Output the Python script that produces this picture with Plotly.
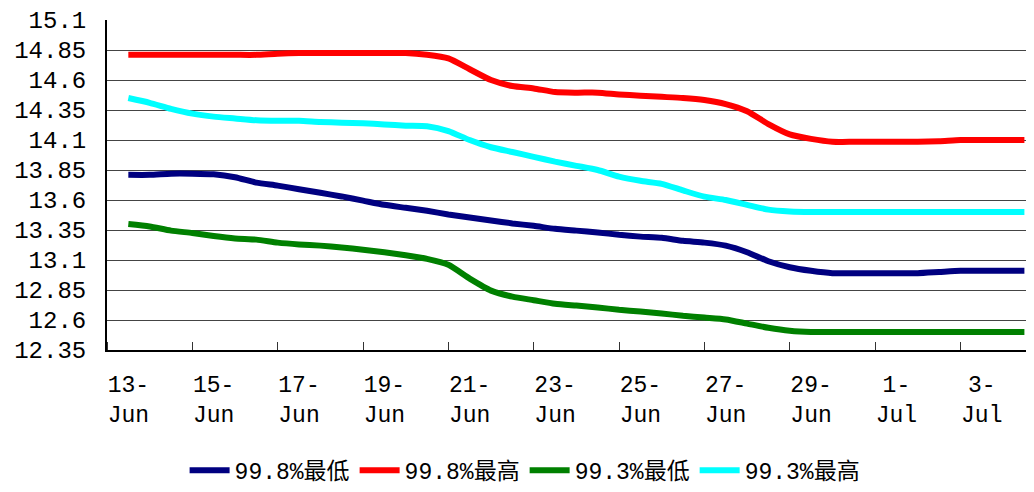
import plotly.graph_objects as go

# days offset from 13-Jun (half-day readings)
days = [i / 2 for i in range(43)]

low_998 = [13.81, 13.81, 13.82, 13.82, 13.815, 13.79, 13.745, 13.72, 13.69, 13.66,
           13.63, 13.595, 13.56, 13.535, 13.51, 13.48, 13.455, 13.43, 13.405, 13.385,
           13.36, 13.345, 13.33, 13.31, 13.295, 13.285, 13.26, 13.245, 13.22, 13.165,
           13.09, 13.04, 13.01, 12.99, 12.99, 12.99, 12.99, 12.99, 13.00, 13.01,
           13.01, 13.01, 13.01]
high_998 = [14.81, 14.81, 14.81, 14.81, 14.81, 14.81, 14.81, 14.82, 14.825, 14.825,
            14.825, 14.825, 14.825, 14.825, 14.81, 14.78, 14.69, 14.60, 14.55, 14.53,
            14.50, 14.495, 14.495, 14.48, 14.47, 14.46, 14.45, 14.433, 14.40, 14.34,
            14.233, 14.147, 14.11, 14.086, 14.085, 14.085, 14.085, 14.085, 14.09, 14.10,
            14.10, 14.10, 14.10]
low_993 = [13.40, 13.38, 13.345, 13.325, 13.30, 13.28, 13.27, 13.245, 13.23, 13.22,
           13.205, 13.185, 13.165, 13.14, 13.11, 13.06, 12.945, 12.845, 12.795, 12.765,
           12.735, 12.72, 12.705, 12.685, 12.67, 12.655, 12.635, 12.62, 12.605, 12.57,
           12.535, 12.51, 12.50, 12.50, 12.50, 12.50, 12.50, 12.50, 12.50, 12.50,
           12.50, 12.50, 12.50]
high_993 = [14.45, 14.41, 14.36, 14.32, 14.295, 14.28, 14.265, 14.26, 14.26, 14.25,
            14.245, 14.24, 14.23, 14.22, 14.215, 14.175, 14.10, 14.04, 14.00, 13.96,
            13.92, 13.885, 13.85, 13.795, 13.76, 13.735, 13.68, 13.628, 13.60, 13.56,
            13.52, 13.505, 13.50, 13.50, 13.50, 13.50, 13.50, 13.50, 13.50, 13.50,
            13.50, 13.50, 13.50]

series_names = ["99.8%最低", "99.8%最高", "99.3%最低", "99.3%最高"]
series_colors = ["#000080", "#FF0000", "#008000", "#00FFFF"]

x_tickvals = [0, 2, 4, 6, 8, 10, 12, 14, 16, 18, 20]
x_ticktext = ["13-<br>Jun", "15-<br>Jun", "17-<br>Jun", "19-<br>Jun", "21-<br>Jun",
              "23-<br>Jun", "25-<br>Jun", "27-<br>Jun", "29-<br>Jun", "1-<br>Jul", "3-<br>Jul"]
y_tickvals = [12.35, 12.6, 12.85, 13.1, 13.35, 13.6, 13.85, 14.1, 14.35, 14.6, 14.85, 15.1]
y_ticktext = ["12.35", "12.6", "12.85", "13.1", "13.35", "13.6", "13.85", "14.1",
              "14.35", "14.6", "14.85", "15.1"]

FONT = "Liberation Mono, Noto Sans CJK SC, monospace"

fig = go.Figure()
for name, vals, col in zip(series_names, [low_998, high_998, low_993, high_993], series_colors):
    fig.add_trace(go.Scatter(x=days, y=vals, mode="lines", name=name,
                             line=dict(color=col, width=6, shape="spline", smoothing=0.6)))

# page body has an 8px default margin, so the figure is sized/placed to compensate
fig.update_layout(
    width=1026, height=484,
    margin=dict(l=99, r=0, t=12, b=142, autoexpand=False),
    paper_bgcolor="white", plot_bgcolor="white",
    font=dict(family=FONT, size=24, color="black"),
    showlegend=True,
    legend=dict(orientation="h", xref="container", yref="container",
                x=0.504, xanchor="center", y=0.045, yanchor="middle",
                font=dict(family=FONT, size=23, color="black"),
                itemwidth=40, tracegroupgap=0),
)
fig.update_xaxes(
    range=[-0.5, 21.225], tickmode="array", tickvals=x_tickvals, ticktext=x_ticktext,
    ticks="", showgrid=False, zeroline=False,
    showline=True, linecolor="black", linewidth=2,
    ticklabelstandoff=12,
    minor=dict(tickmode="linear", tick0=-0.5, dtick=2, ticks="inside",
               ticklen=8, tickcolor="#333", tickwidth=1, showgrid=False),
    tickfont=dict(family=FONT, size=23),
)
fig.update_yaxes(
    range=[12.35, 15.1005], tickmode="array", tickvals=y_tickvals, ticktext=y_ticktext,
    ticks="", showgrid=True, gridcolor="#444", gridwidth=1, zeroline=False,
    showline=True, linecolor="black", linewidth=2,
    ticklabelstandoff=14,
    tickfont=dict(family=FONT, size=24),
)

fig.write_html("out.html")
